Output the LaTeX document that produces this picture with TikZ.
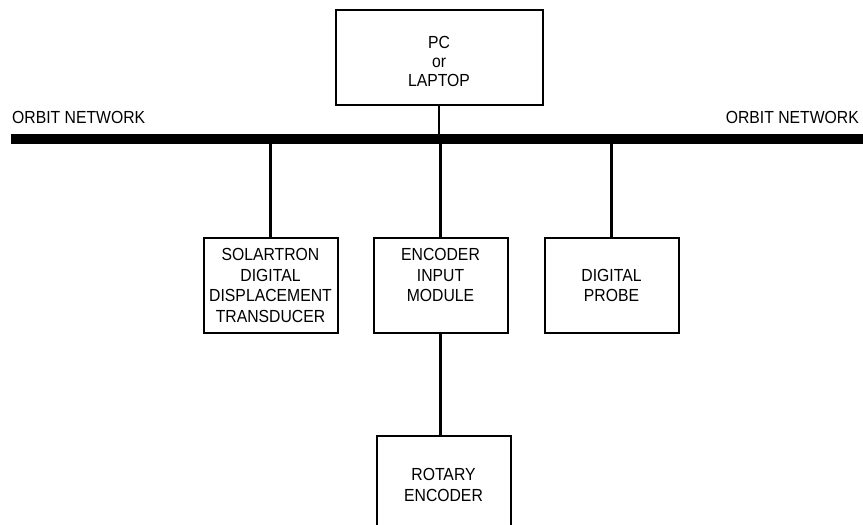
\documentclass[tikz,border=0pt]{standalone}
\usepackage{fontspec}
\setmainfont{Liberation Sans}[FakeStretch=0.9]
\usetikzlibrary{positioning}

\begin{document}
\begin{tikzpicture}[
        x=1pt, y=-1pt,
        % Boxes that hang on the network
        unit/.style={draw, line width=2pt, align=center, inner sep=0pt,
            minimum width=134pt, minimum height=95pt,
            font=\fontsize{17.5}{20.5}\selectfont},
        link/.style={line width=2.5pt},
        bus/.style={line width=10pt},
        tag/.style={inner sep=0pt, font=\fontsize{17.5}{20}\selectfont}
    ]
    \clip (0,0) rectangle (863,525);
    % The network itself
    \coordinate (busL) at (11,139);
    \coordinate (busR) at (863,139);
    \draw[bus] (busL) -- (busR);
    \node[tag, anchor=base west] (netL) at (12,123) {ORBIT NETWORK};
    \node[tag, anchor=base east] (netR) at (859,123) {ORBIT NETWORK};
    % Host on top
    \node[unit, minimum width=207pt, font=\fontsize{17.5}{19}\selectfont]
        (pc) at (439,57.5) {\rule{0pt}{20pt}PC\\or\\LAPTOP};
    % Devices below the bus
    \node[unit] (sdt) at (270.5,285.5) {SOLARTRON\\DIGITAL\\DISPLACEMENT\\TRANSDUCER};
    \node[unit, right=34pt of sdt] (eim) {ENCODER\\INPUT\\MODULE\\\mbox{}};
    \node[unit, right=35pt of eim] (probe) {DIGITAL\\PROBE};
    \node[unit, minimum height=98pt, below=101pt of eim, xshift=3pt] (rotary) {ROTARY\\ENCODER};
    % Drops to the bus
    \draw[link] (pc.south) -- (pc.south |- busL);
    \draw[link] (sdt.north) -- (sdt.north |- busL);
    \draw[link] (eim.north) -- (eim.north |- busL);
    \draw[link] (probe.north) -- (probe.north |- busL);
    \draw[link] (eim.south) -- (eim.south |- rotary.north);
\end{tikzpicture}
\end{document}
